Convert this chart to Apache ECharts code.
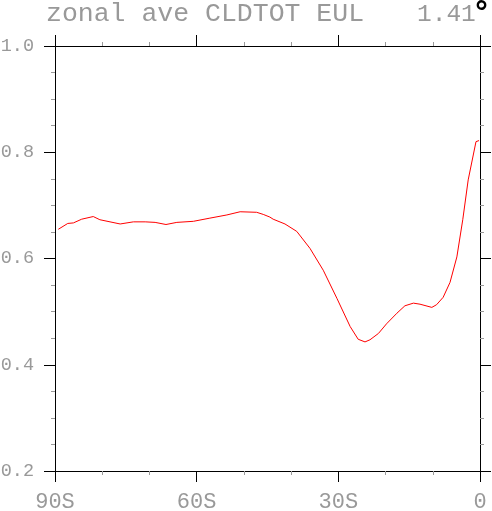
<!DOCTYPE html>
<html>
<head>
<meta charset="utf-8">
<script src="https://cdn.jsdelivr.net/npm/echarts@6/dist/echarts.min.js"></script>
<style>html,body{margin:0;padding:0;background:#fff}#c{width:492px;height:511px}</style>
</head>
<body>
<div id="c"></div>
<script>
var titleLeft = 'zonal ave CLDTOT EUL';
var titleRight = '1.41';
var titleDegree = '°';
var xTickValues = [-90, -60, -30, 0];
var xTickLabels = ['90S', '60S', '30S', '0'];
var yTickLabels = ['0.2', '0.4', '0.6', '0.8', '1.0'];
var lats = [-89.3, -87.3, -86.1, -84.35, -81.9, -80.5, -78.35, -76.2, -73.4, -70.9, -68.8, -66.5, -64.2, -60.7, -57.2, -53.6, -50.8, -47.3, -45.9, -44.5, -43.8, -41.3, -38.8, -36.0, -33.2, -30.3, -27.5, -25.8, -24.35, -23.3, -21.5, -19.8, -17.6, -15.9, -14.1, -12.7, -10.2, -9.2, -7.8, -6.35, -4.9, -3.65, -2.5, -0.85, -0.2];
var cldtot = [0.655, 0.666, 0.667, 0.674, 0.679, 0.673, 0.669, 0.665, 0.669, 0.669, 0.668, 0.664, 0.668, 0.670, 0.676, 0.682, 0.688, 0.687, 0.683, 0.678, 0.674, 0.665, 0.651, 0.619, 0.578, 0.525, 0.472, 0.448, 0.443, 0.447, 0.459, 0.477, 0.497, 0.511, 0.516, 0.514, 0.508, 0.513, 0.527, 0.555, 0.603, 0.673, 0.748, 0.820, 0.822];

var data = lats.map(function (v, i) { return [v, cldtot[i]]; });
var font = 'Liberation Mono';
var labelColor = '#999';
var chart = echarts.init(document.getElementById('c'));

function xAxisCfg(pos, showLabel) {
  return {
    type: 'value', position: pos, min: -90, max: 0, interval: 30,
    axisLine: { show: true, onZero: false, lineStyle: { color: '#000', width: 1 } },
    axisTick: { show: true, inside: false, length: 11, lineStyle: { color: '#000' } },
    minorTick: { show: true, splitNumber: 3, length: 4, lineStyle: { color: '#999' } },
    splitLine: { show: false },
    axisLabel: {
      show: showLabel, margin: 20, color: labelColor, fontFamily: font, fontSize: 22,
      formatter: function (v) { var i = xTickValues.indexOf(v); return i >= 0 ? xTickLabels[i] : ''; }
    }
  };
}
function yAxisCfg(pos, showLabel) {
  return {
    type: 'value', position: pos, min: 0.2, max: 1.0, interval: 0.2,
    axisLine: { show: true, onZero: false, lineStyle: { color: '#000', width: 1 } },
    axisTick: { show: true, inside: false, length: 11, lineStyle: { color: '#000' } },
    minorTick: { show: true, splitNumber: 4, length: 4, lineStyle: { color: '#999' } },
    splitLine: { show: false },
    axisLabel: {
      show: showLabel, margin: 21, color: labelColor, fontFamily: font, fontSize: 18.5,
      formatter: function (v) { var i = Math.round((v - 0.2) / 0.2); return yTickLabels[i] || ''; }
    }
  };
}

chart.setOption({
  animation: false,
  backgroundColor: '#fff',
  grid: { left: 55, right: 12, top: 46, bottom: 40, containLabel: false, outerBoundsMode: 'none' },
  xAxis: [xAxisCfg('bottom', true), xAxisCfg('top', false)],
  yAxis: [yAxisCfg('left', true), yAxisCfg('right', false)],
  graphic: [
    { type: 'text', left: 46, top: 0, style: { text: titleLeft, fontFamily: font, fontSize: 26.5, fill: '#999' } },
    { type: 'text', left: 417, top: 2, style: { text: titleRight, fontFamily: font, fontSize: 24.5, fill: '#999' } },
    { type: 'text', left: 474, top: 0, style: { text: titleDegree, fontFamily: 'DejaVu Sans', fontSize: 30, fontWeight: 'bold', fill: '#000' } }
  ],
  series: [{
    type: 'line', data: data, showSymbol: false, symbol: 'none', smooth: false,
    lineStyle: { color: '#ff0000', width: 1 }, xAxisIndex: 0, yAxisIndex: 0
  }]
});
</script>
</body>
</html>
